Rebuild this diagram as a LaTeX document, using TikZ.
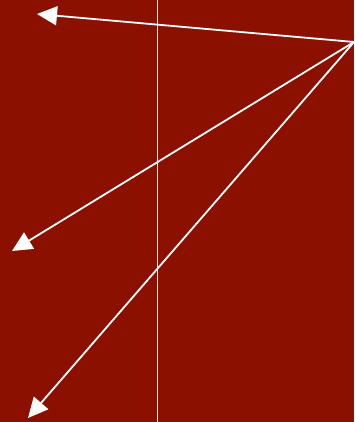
\documentclass[tikz,border=0pt]{standalone}
\usepackage{tikz}
\usetikzlibrary{arrows.meta}
\usetikzlibrary{positioning}
\definecolor{bgred}{RGB}{139,16,0}
\tikzstyle{ray}=[draw=white,line width=1.8pt,-{Triangle[length=20pt,width=19pt]}]

\begin{document}
\begin{tikzpicture}[x=1pt,y=-1pt]
\fill[bgred] (0,0) rectangle (354,422);
\useasboundingbox (0,0) rectangle (354,422);
\coordinate (top) at (157.5,0);
\coordinate (bot) at (157.5,422);
\draw[white,line width=1.8pt] (top) -- (bot);

\coordinate (src) at (354,42);
\coordinate (t1) at (37,14);
\coordinate (t2) at (12,251);
\coordinate (t3) at (28,418);
\foreach \t in {t1,t2,t3}{\draw[ray] (src) -- (\t);}
\end{tikzpicture}
\end{document}
